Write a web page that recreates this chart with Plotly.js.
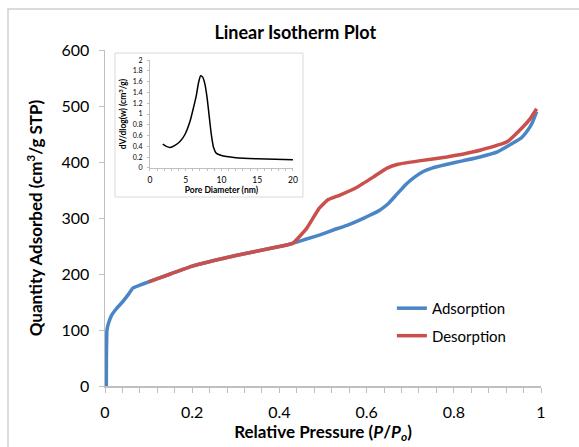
<!DOCTYPE html>
<html>
<head>
<meta charset="utf-8">
<script src="https://cdn.plot.ly/plotly-3.0.1.min.js"></script>
<style>html,body{margin:0;padding:0;background:#fff;}#chart{width:579px;height:447px;}</style>
</head>
<body>
<div id="chart"></div>
<script>
// Adsorption branch (relative pressure, quantity adsorbed)
const adsP = [0.003,0.0032,0.0045,0.008,0.015,0.025,0.04,0.055,0.064,0.08,0.1,0.15,0.2,0.25,0.3,0.35,0.4,0.431,0.46,0.493,0.525,0.555,0.58,0.605,0.63,0.65,0.67,0.69,0.71,0.73,0.75,0.78,0.82,0.86,0.9,0.936,0.955,0.97,0.98,0.99];
const adsV = [0,50,100,112,126,137,150,165,175,180,186,200,214,224,233,241,249,255,262,270,279,287,295,304,314,326,343,360,373,383,389,395,402,409,418,434,443,457,470,490];
// Desorption branch
const desP = [0.1,0.15,0.2,0.25,0.3,0.35,0.4,0.431,0.463,0.49,0.512,0.539,0.578,0.615,0.647,0.672,0.72,0.784,0.82,0.86,0.922,0.959,0.975,0.99];
const desV = [186,200,214,224,233,241,249,255,282,316,333,341,355,373,389,396,402,409,414,421,436,463,477,495];
// Inset: pore size distribution
const poreD = [1.8,2.3,2.8,3.5,4.2,4.9,5.6,6.1,6.5,6.8,7.1,7.4,7.7,8.0,8.3,8.6,8.9,9.3,10,10.7,12,15,20];
const poreDV = [0.44,0.40,0.38,0.42,0.49,0.62,0.86,1.12,1.35,1.58,1.71,1.68,1.55,1.3,0.95,0.61,0.38,0.27,0.23,0.21,0.19,0.17,0.15];

const FONT = 'Lato, "Open Sans", sans-serif';
const AX = '#bfbfbf';

const traces = [
  {x: adsP, y: adsV, type: 'scatter', mode: 'lines', name: 'Adsorption', legendgroup: 'a',
   line: {color: '#4a86c5', width: 3.5, shape: 'spline', smoothing: 0.35}, xaxis: 'x', yaxis: 'y'},
  {x: desP, y: desV, type: 'scatter', mode: 'lines', name: 'Desorption', legendgroup: 'd',
   line: {color: '#c9504c', width: 3.5, shape: 'spline', smoothing: 0.35}, xaxis: 'x', yaxis: 'y'},
  {x: poreD, y: poreDV, type: 'scatter', mode: 'lines', showlegend: false,
   line: {color: '#000', width: 1.5, shape: 'spline', smoothing: 0.6}, xaxis: 'x2', yaxis: 'y2'}
];

const layout = {
  width: 579, height: 447,
  margin: {l: 105, r: 38, t: 50, b: 61},
  paper_bgcolor: '#fff', plot_bgcolor: 'rgba(0,0,0,0)',
  font: {family: FONT, color: '#000'},
  title: {text: '<b>Linear Isotherm Plot</b>', font: {size: 18, family: FONT, color: '#000'},
          x: 0.51, xref: 'container', xanchor: 'center', y: 0.926, yref: 'container', yanchor: 'middle'},
  showlegend: true,
  legend: {x: 0.658, y: 0.28, xanchor: 'left', yanchor: 'top', font: {size: 15, family: FONT},
           bgcolor: 'rgba(0,0,0,0)', traceorder: 'grouped', tracegroupgap: 5, itemwidth: 30},
  xaxis: {range: [0, 1], dtick: 0.2, tick0: 0, showgrid: false, zeroline: false,
          showline: true, linecolor: AX, linewidth: 1.5, ticks: 'outside', ticklen: 5, tickcolor: AX,
          minor: {dtick: 0.04, ticks: 'outside', ticklen: 5, tickcolor: AX, showgrid: false},
          tickfont: {size: 16, family: FONT}, ticklabelstandoff: 6,
          title: {text: '<b>Relative Pressure (<i>P</i>/<i>P<sub>o</sub></i>)</b>', font: {size: 17, family: FONT}, standoff: 6}},
  yaxis: {range: [0, 600], dtick: 100, showgrid: false, zeroline: false,
          showline: true, linecolor: AX, linewidth: 1.5, ticks: 'outside', ticklen: 5, tickcolor: AX,
          tickfont: {size: 16, family: FONT}, ticklabelstandoff: 6,
          title: {text: '<b>Quantity Adsorbed (cm<sup>3</sup>/g STP)</b>', font: {size: 17, family: FONT}, standoff: 14}},
  xaxis2: {domain: [0.103, 0.431], anchor: 'y2', range: [0, 20], dtick: 5, showgrid: false, zeroline: false,
           showline: true, linecolor: AX, linewidth: 1, ticks: 'outside', ticklen: 2, tickcolor: AX,
           minor: {dtick: 1, ticks: 'outside', ticklen: 2, tickcolor: AX, showgrid: false},
           tickfont: {size: 8.5, family: FONT}, ticklabelstandoff: 2,
           title: {text: '<b>Pore Diameter (nm)</b>', font: {size: 8.5, family: FONT}, standoff: 2}},
  yaxis2: {domain: [0.649, 0.970], anchor: 'x2', range: [0, 2], dtick: 0.2, showgrid: false, zeroline: false,
           showline: true, linecolor: AX, linewidth: 1, ticks: 'outside', ticklen: 2, tickcolor: AX,
           tickfont: {size: 7, family: FONT}, ticklabelstandoff: 3,
           title: {text: '<b>dV/dlog(w) (cm<sup>3</sup>/g)</b>', font: {size: 8.5, family: FONT}, standoff: 4}},
  shapes: [
    {type: 'rect', xref: 'paper', yref: 'paper', x0: -0.2225, x1: 1.3, y0: -0.4, y1: 1.122,
     line: {color: '#d0d0d0', width: 1.5}, fillcolor: 'rgba(0,0,0,0)', layer: 'below'},
    {type: 'rect', xref: 'paper', yref: 'paper', x0: 0.023, x1: 0.454, y0: 0.5625, y1: 0.991,
     line: {color: '#d9d9d9', width: 1}, fillcolor: '#fff', layer: 'below'}
  ]
};

Plotly.newPlot('chart', traces, layout, {displayModeBar: false, staticPlot: true});
</script>
</body>
</html>
